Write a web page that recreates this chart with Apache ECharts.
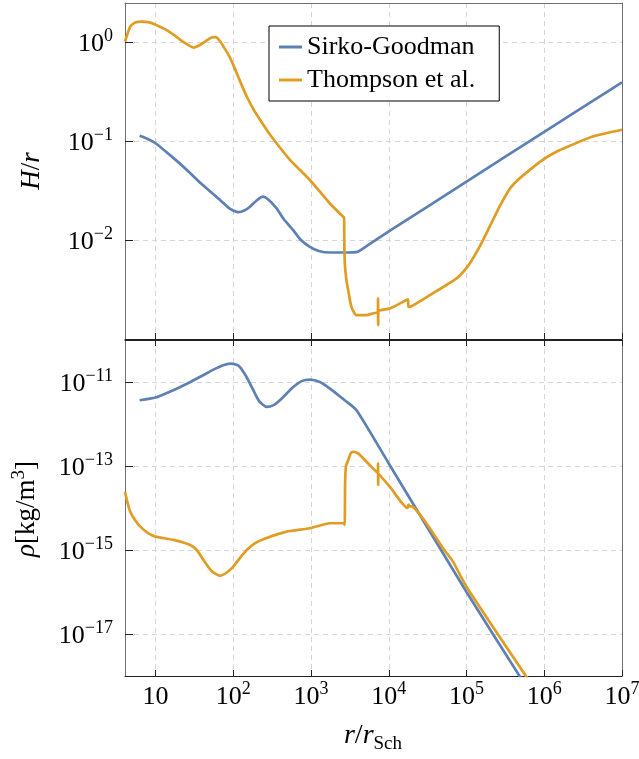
<!DOCTYPE html>
<html>
<head>
<meta charset="utf-8">
<script src="https://cdn.jsdelivr.net/npm/echarts@6/dist/echarts.min.js"></script>
<style>
html,body{margin:0;padding:0;background:#fff;}
#chart{width:639px;height:759px;}
</style>
</head>
<body>
<div id="chart"></div>
<script>
// ---------- data ----------
const seriesNames = ['Sirko-Goodman', 'Thompson et al.'];

// Top panel: H/r
const sgR_H = [6.24, 7.94, 10, 15.8, 25.3, 39.8, 67.6, 89.1, 116, 141, 164, 200, 239, 282, 361, 447, 590, 741, 968, 1260, 1750, 2860, 3960, 5000, 10000, 100000, 1000000, 1e7];
const sgH   = [0.113, 0.105, 0.0951, 0.0708, 0.0511, 0.0363, 0.0254, 0.0209, 0.0191, 0.0200, 0.0217, 0.0251, 0.0274, 0.0257, 0.0209, 0.0162, 0.0126, 0.0100, 0.00853, 0.00776, 0.00748, 0.00748, 0.00759, 0.00853, 0.0122, 0.0389, 0.124, 0.392];

const thR_H = [4.05, 4.74, 5.48, 6.68, 8.32, 10, 13.2, 17.0, 22.9, 30.8, 37.2, 43.4, 52.5, 59.6, 67.6, 74.6, 87.1, 100, 120, 149, 182, 221, 282, 361, 536, 968, 1750, 2590, 2660, 2680, 2720, 2850, 3010, 3310, 3850, 5180, 6310, 7240, 7280, 7310, 7350, 10300, 17700, 17900, 20000, 33700, 74000, 94600, 110000, 147000, 200000, 266000, 355000, 457000, 646000, 955000, 1410000, 2100000, 4200000, 1e7];
const thH   = [1.01, 1.44, 1.58, 1.61, 1.58, 1.50, 1.35, 1.19, 1.00, 0.881, 0.933, 1.01, 1.11, 1.12, 1.02, 0.904, 0.741, 0.589, 0.417, 0.282, 0.209, 0.164, 0.123, 0.0951, 0.0646, 0.0404, 0.0234, 0.0172, 0.0170, 0.0100, 0.00583, 0.00398, 0.00311, 0.00211, 0.00174, 0.00174, 0.00182, 0.00187, 0.00257, 0.00138, 0.00191, 0.00203, 0.00251, 0.00211, 0.00216, 0.00277, 0.00408, 0.00495, 0.00579, 0.00853, 0.0138, 0.0217, 0.0324, 0.0404, 0.0509, 0.0646, 0.0776, 0.0891, 0.111, 0.130];

// Bottom panel: rho [kg/m^3]
const sgR_rho = [6.24, 10, 15.8, 25.3, 39.8, 55.6, 74.1, 91.0, 110, 122, 145, 173, 214, 269, 331, 398, 590, 759, 968, 1300, 1750, 2720, 3850, 10000, 100000, 501000];
const sgRho   = [3.67e-12, 4.26e-12, 6.03e-12, 9.12e-12, 1.41e-11, 1.97e-11, 2.51e-11, 2.74e-11, 2.57e-11, 2.27e-11, 1.41e-11, 7.60e-12, 3.55e-12, 2.55e-12, 2.82e-12, 3.67e-12, 7.60e-12, 1.05e-11, 1.14e-11, 1.00e-11, 6.97e-12, 3.67e-12, 2.13e-12, 1.15e-13, 1.0e-16, 8.91e-19];

const thR_rho = [4.05, 4.37, 4.73, 5.50, 6.37, 7.94, 10, 17.0, 27.9, 33.9, 41.3, 52.5, 67.6, 83.2, 100, 123, 149, 191, 243, 486, 968, 1750, 2630, 2720, 2730, 2750, 2820, 3010, 3240, 3480, 4040, 5700, 7240, 7280, 7310, 7350, 10300, 17400, 18000, 18600, 20500, 30500, 49800, 67000, 99300, 631000];
const thRho   = [2.40e-14, 1.32e-14, 8.17e-15, 5.01e-15, 3.60e-15, 2.57e-15, 2.08e-15, 1.74e-15, 1.32e-15, 1.00e-15, 5.82e-16, 3.16e-16, 2.43e-16, 2.95e-16, 4.04e-16, 6.61e-16, 1.00e-15, 1.45e-15, 1.81e-15, 2.74e-15, 3.30e-15, 4.33e-15, 4.37e-15, 3.98e-15, 1.07e-14, 4.62e-14, 1.00e-13, 1.38e-13, 2.00e-13, 2.17e-13, 2.00e-13, 1.05e-13, 6.76e-14, 1.15e-13, 3.55e-14, 6.61e-14, 3.21e-14, 1.00e-14, 1.20e-14, 1.10e-14, 1.07e-14, 4.33e-15, 1.10e-15, 5.30e-16, 1.35e-16, 7.94e-19];

// Axis ticks
const xTicks = [10, 1e2, 1e3, 1e4, 1e5, 1e6, 1e7];
const hTicks = [1e-2, 1e-1, 1];
const rhoTicks = [1e-17, 1e-15, 1e-13, 1e-11];

// ---------- styling ----------
const FONT = 'Liberation Serif';
const BLUE = '#5E81B5';
const ORANGE = '#E19C24';
const FRAME = '#707070';
const DARK = '#222';
const zip = (a, b) => a.map((v, i) => [v, b[i]]);

const rich = {
  b: {fontFamily: FONT, fontSize: 26, color: '#000', verticalAlign: 'bottom'},
  s: {fontFamily: FONT, fontSize: 18, color: '#000', verticalAlign: 'bottom', padding: [0, 0, 12, 0]}
};
function fmtPow(v, plain10) {
  const e = Math.round(Math.log10(v));
  if (plain10 && e === 1) return '{b|10}{s|\u200b}';
  return '{b|10}{s|' + String(e).replace('-', '\u2212') + '}';
}
const gridLine = {show: true, lineStyle: {color: '#d6d6d6', type: [5, 4], width: 1}};
const tickStyle = {color: DARK, width: 1};
const X_RANGE = {type: 'log', logBase: 10, min: 4.05, max: 1e7};
const H_RANGE = {type: 'log', logBase: 10, min: 0.001, max: 2.483};
const RHO_RANGE = {type: 'log', logBase: 10, min: 1e-18, max: 1e-10};
const frameOnly = color => ({
  axisLine: {show: true, lineStyle: {color: color, width: 1}},
  axisTick: {show: false}, axisLabel: {show: false}, splitLine: {show: false}
});
const lineSeries = (name, xi, yi, data, color, z) => ({
  name, type: 'line', xAxisIndex: xi, yAxisIndex: yi, data,
  showSymbol: false, smooth: 0.2,
  lineStyle: {color, width: 2.7}, itemStyle: {color}, z
});

const chart = echarts.init(document.getElementById('chart'), null, {renderer: 'canvas'});
chart.setOption({
  animation: false,
  backgroundColor: '#fff',
  grid: [
    {left: 125, top: 3, width: 497, height: 336, show: false, containLabel: false, outerBoundsMode: 'none'},
    {left: 125, top: 340, width: 497, height: 336, show: false, containLabel: false, outerBoundsMode: 'none'}
  ],
  xAxis: [
    Object.assign({gridIndex: 0, position: 'bottom',
     axisLine: {show: true, lineStyle: {color: DARK, width: 1}},
     axisTick: {show: true, inside: true, length: 6, lineStyle: tickStyle, customValues: xTicks},
     axisLabel: {show: false, customValues: xTicks},
     splitLine: gridLine}, X_RANGE),
    Object.assign({gridIndex: 1, position: 'bottom',
     axisLine: {show: true, lineStyle: {color: DARK, width: 1}},
     axisTick: {show: true, inside: true, length: 6, lineStyle: tickStyle, customValues: xTicks},
     axisLabel: {show: true, customValues: xTicks, margin: 4, formatter: v => fmtPow(v, true), rich: rich},
     splitLine: gridLine}, X_RANGE),
    Object.assign({gridIndex: 1, position: 'top',
     axisLine: {show: true, lineStyle: {color: DARK, width: 1}},
     axisTick: {show: true, inside: true, length: 6, lineStyle: tickStyle, customValues: xTicks},
     axisLabel: {show: false, customValues: xTicks},
     splitLine: {show: false}}, X_RANGE),
    Object.assign({gridIndex: 0, position: 'top'}, frameOnly(FRAME), X_RANGE)
  ],
  yAxis: [
    Object.assign({gridIndex: 0, position: 'left',
     axisLine: {show: true, lineStyle: {color: FRAME, width: 1}},
     axisTick: {show: true, inside: true, length: 8, lineStyle: tickStyle, customValues: hTicks},
     axisLabel: {show: true, customValues: hTicks, margin: 12, formatter: v => fmtPow(v, false), rich: rich},
     splitLine: gridLine}, H_RANGE),
    Object.assign({gridIndex: 1, position: 'left',
     axisLine: {show: true, lineStyle: {color: FRAME, width: 1}},
     axisTick: {show: true, inside: true, length: 8, lineStyle: tickStyle, customValues: rhoTicks},
     axisLabel: {show: true, customValues: rhoTicks, margin: 12, formatter: v => fmtPow(v, false), rich: rich},
     splitLine: gridLine}, RHO_RANGE),
    Object.assign({gridIndex: 0, position: 'right'}, frameOnly(FRAME), H_RANGE),
    Object.assign({gridIndex: 1, position: 'right'}, frameOnly(FRAME), RHO_RANGE)
  ],
  legend: {
    data: seriesNames,
    orient: 'vertical', left: 269, top: 26,
    padding: [8, 24, 8, 10], itemGap: 7,
    itemWidth: 23, itemHeight: 3, icon: 'rect',
    backgroundColor: '#fff', borderColor: '#000', borderWidth: 1,
    textStyle: {fontFamily: FONT, fontSize: 26, color: '#000'}
  },
  series: [
    lineSeries(seriesNames[0], 0, 0, zip(sgR_H, sgH), BLUE, 3),
    lineSeries(seriesNames[1], 0, 0, zip(thR_H, thH), ORANGE, 4),
    lineSeries(seriesNames[0], 1, 1, zip(sgR_rho, sgRho), BLUE, 3),
    lineSeries(seriesNames[1], 1, 1, zip(thR_rho, thRho), ORANGE, 4)
  ],
  graphic: [
    {type: 'text', x: 32, y: 171, rotation: Math.PI / 2,
     style: {text: '{i|H}{n|/}{i|r}', align: 'center', verticalAlign: 'middle',
       rich: {i: {fontFamily: FONT, fontSize: 27, fontStyle: 'italic', color: '#000'},
              n: {fontFamily: FONT, fontSize: 27, color: '#000'}}}},
    {type: 'text', x: 25, y: 509, rotation: Math.PI / 2,
     style: {text: '{i|\u03c1}{n|[kg/m}{s|3}{n|]}', align: 'center', verticalAlign: 'middle',
       rich: {i: {fontFamily: FONT, fontSize: 27, fontStyle: 'italic', color: '#000', verticalAlign: 'bottom'},
              n: {fontFamily: FONT, fontSize: 27, color: '#000', verticalAlign: 'bottom'},
              s: {fontFamily: FONT, fontSize: 19, color: '#000', verticalAlign: 'bottom', padding: [0, 0, 12, 0]}}}},
    {type: 'text', x: 373, y: 738,
     style: {text: '{i|r}{n|/}{i|r}{u|Sch}', align: 'center', verticalAlign: 'middle',
       rich: {i: {fontFamily: FONT, fontSize: 28, fontStyle: 'italic', color: '#000', verticalAlign: 'top'},
              n: {fontFamily: FONT, fontSize: 28, color: '#000', verticalAlign: 'top'},
              u: {fontFamily: FONT, fontSize: 19, color: '#000', verticalAlign: 'top', padding: [13, 0, 0, 0]}}}}
  ]
});
</script>
</body>
</html>
